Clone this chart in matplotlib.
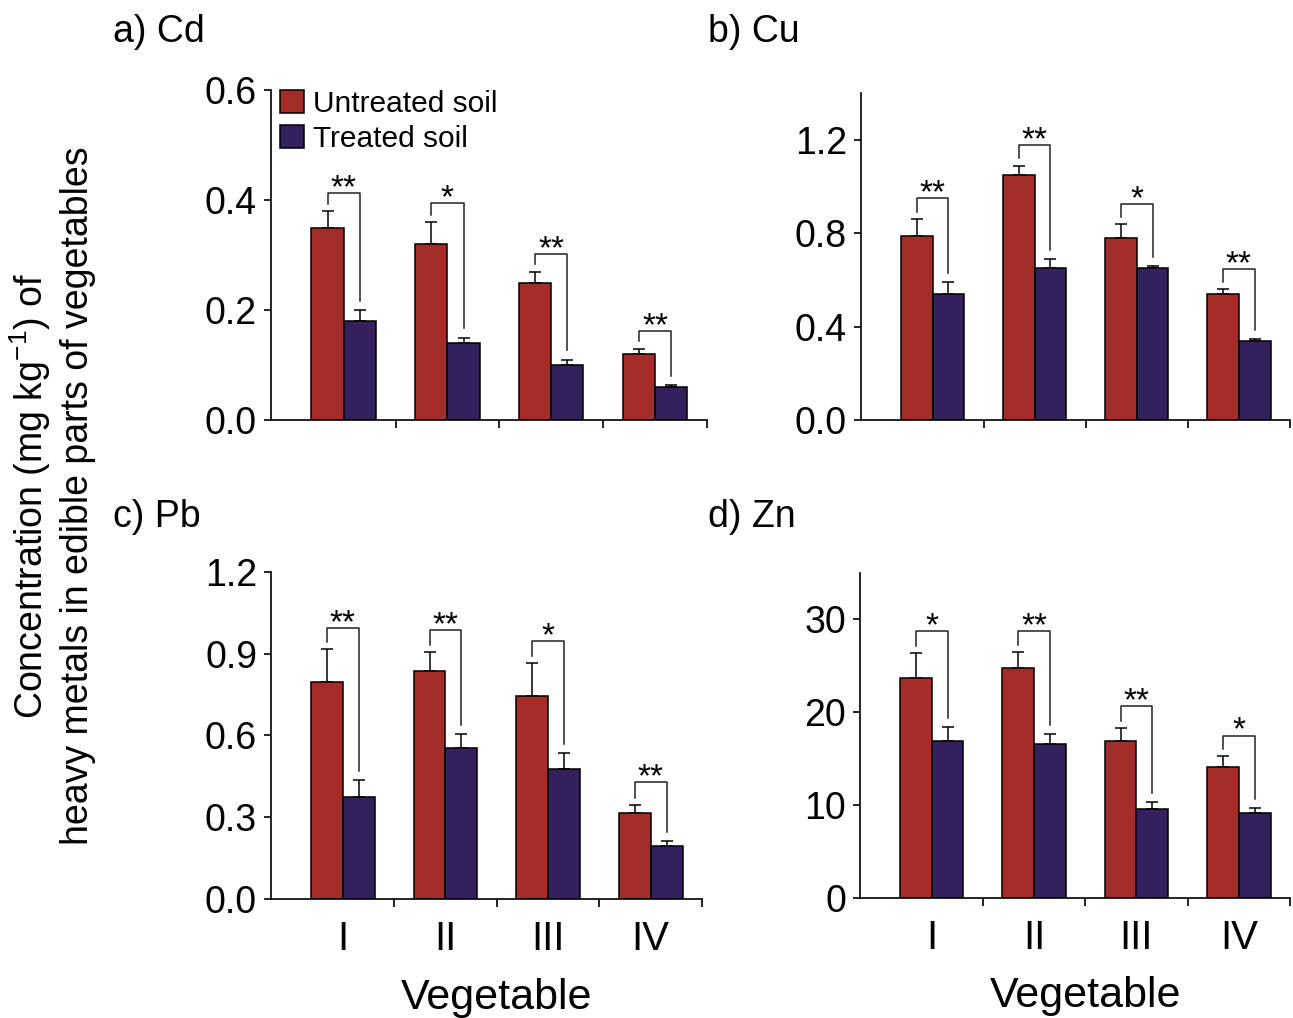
import numpy as np
import matplotlib.pyplot as plt

plt.rcParams['font.family'] = ['Liberation Sans', 'DejaVu Sans']

# --- data ---
categories = ["I", "II", "III", "IV"]

cd_untreated = [0.35, 0.32, 0.25, 0.12]
cd_untreated_err = [0.03, 0.04, 0.02, 0.01]
cd_treated = [0.18, 0.14, 0.10, 0.06]
cd_treated_err = [0.02, 0.01, 0.01, 0.003]
cd_sig = ["**", "*", "**", "**"]
cd_bracket = [0.413, 0.395, 0.302, 0.162]

cu_untreated = [0.79, 1.05, 0.78, 0.54]
cu_untreated_err = [0.07, 0.04, 0.06, 0.02]
cu_treated = [0.54, 0.65, 0.65, 0.34]
cu_treated_err = [0.05, 0.04, 0.01, 0.007]
cu_sig = ["**", "**", "*", "**"]
cu_bracket = [0.953, 1.179, 0.926, 0.646]

pb_untreated = [0.795, 0.836, 0.745, 0.314]
pb_untreated_err = [0.12, 0.07, 0.12, 0.03]
pb_treated = [0.375, 0.555, 0.475, 0.195]
pb_treated_err = [0.06, 0.05, 0.06, 0.017]
pb_sig = ["**", "**", "*", "**"]
pb_bracket = [0.995, 0.986, 0.947, 0.428]

zn_untreated = [23.7, 24.8, 16.9, 14.1]
zn_untreated_err = [2.7, 1.7, 1.4, 1.2]
zn_treated = [16.9, 16.6, 9.6, 9.2]
zn_treated_err = [1.5, 1.1, 0.7, 0.5]
zn_sig = ["*", "**", "**", "*"]
zn_bracket = [28.7, 28.7, 20.7, 17.5]

RED = "#A52D29"
BLUE = "#35205E"
W = 0.31


def draw_panel(ax, red, red_err, blue, blue_err, sig, bracket,
               ylim, yticks, yfmt, bottom_row, legend=False):
    x = np.arange(len(categories))
    ax.bar(x - W / 2, red, W, color=RED, edgecolor="black", linewidth=1.1,
           label="Untreated soil", zorder=2)
    ax.bar(x + W / 2, blue, W, color=BLUE, edgecolor="black", linewidth=1.1,
           label="Treated soil", zorder=2)
    ax.errorbar(x - W / 2, red, yerr=[np.zeros(4), red_err], fmt="none",
                ecolor="black", elinewidth=1.1, capsize=4, capthick=1.1, zorder=1)
    ax.errorbar(x + W / 2, blue, yerr=[np.zeros(4), blue_err], fmt="none",
                ecolor="black", elinewidth=1.1, capsize=4, capthick=1.1, zorder=1)

    # significance brackets
    top = ylim[1]
    for i in range(4):
        xl, xr = x[i] - W / 2, x[i] + W / 2
        yl = red[i] + red_err[i] + 0.022 * top
        yr = blue[i] + blue_err[i] + 0.028 * top
        ax.plot([xl, xl, xr, xr], [yl, bracket[i], bracket[i], yr],
                color="#222222", lw=1.1, zorder=3)
        ax.annotate(sig[i], (x[i], bracket[i]), xytext=(0, -3),
                    textcoords="offset points", ha="center", va="baseline",
                    fontsize=24)

    ax.set_xlim(-0.7, 3.5)
    ax.set_ylim(*ylim)
    ax.set_yticks(yticks)
    ax.set_yticklabels([yfmt.format(v) for v in yticks])
    ax.spines["top"].set_visible(False)
    ax.spines["right"].set_visible(False)
    ax.spines["left"].set_linewidth(1.2)
    ax.spines["bottom"].set_linewidth(1.2)
    ax.tick_params(axis="y", direction="out", length=5, width=1.2,
                   labelsize=27, pad=5)
    ax.set_xticks(x)
    ax.set_xticks([0.5, 1.5, 2.5, 3.5], minor=True)
    ax.tick_params(axis="x", which="minor", direction="out", length=6, width=1.2)
    ax.tick_params(axis="x", which="major", length=0, labelsize=29, pad=15)
    if bottom_row:
        ax.set_xticklabels(categories)
        ax.set_xlabel("Vegetable", fontsize=31)
        ax.xaxis.set_label_coords((1.5 + 0.7) / 4.2, -0.24)
    else:
        ax.set_xticklabels([])
    if legend:
        ax.legend(loc="upper left", bbox_to_anchor=(0.02, 1.0), frameon=False,
                  fontsize=21.5, handlelength=0.8, handleheight=0.8,
                  handletextpad=0.3, labelspacing=0.22, borderpad=0,
                  borderaxespad=0)


fig = plt.figure(figsize=(12.93, 10.18), dpi=100)
W_PX, H_PX = 1293, 1018


def rect(l, r, t, b):
    return [l / W_PX, 1 - b / H_PX, (r - l) / W_PX, (b - t) / H_PX]


ax_a = fig.add_axes(rect(271, 707, 90, 420))
ax_b = fig.add_axes(rect(861, 1290, 93.3, 420))
ax_c = fig.add_axes(rect(271, 702, 571.7, 899))
ax_d = fig.add_axes(rect(860, 1290, 572.7, 898.3))

draw_panel(ax_a, cd_untreated, cd_untreated_err, cd_treated,
           cd_treated_err, cd_sig, cd_bracket, (0, 0.6),
           [0.0, 0.2, 0.4, 0.6], "{:.1f}", False, legend=True)
draw_panel(ax_b, cu_untreated, cu_untreated_err, cu_treated,
           cu_treated_err, cu_sig, cu_bracket, (0, 1.4),
           [0.0, 0.4, 0.8, 1.2], "{:.1f}", False)
draw_panel(ax_c, pb_untreated, pb_untreated_err, pb_treated,
           pb_treated_err, pb_sig, pb_bracket, (0, 1.2),
           [0.0, 0.3, 0.6, 0.9, 1.2], "{:.1f}", True)
draw_panel(ax_d, zn_untreated, zn_untreated_err, zn_treated,
           zn_treated_err, zn_sig, zn_bracket, (0, 35),
           [0, 10, 20, 30], "{:.0f}", True)

# panel titles
for label, px, py in [("a) Cd", 113, 42), ("b) Cu", 708, 42),
                      ("c) Pb", 113, 527), ("d) Zn", 708, 527)]:
    fig.text(px / W_PX, 1 - py / H_PX, label, fontsize=27,
             ha="left", va="baseline")

fig.text(52 / W_PX, 1 - 496 / H_PX,
         "Concentration (mg kg$^{\\mathregular{-1}}$) of\n"
         "heavy metals in edible parts of vegetables",
         rotation=90, fontsize=27, ha="center", va="center",
         multialignment="center", linespacing=1.25)

fig.savefig("out.png", dpi=100)
